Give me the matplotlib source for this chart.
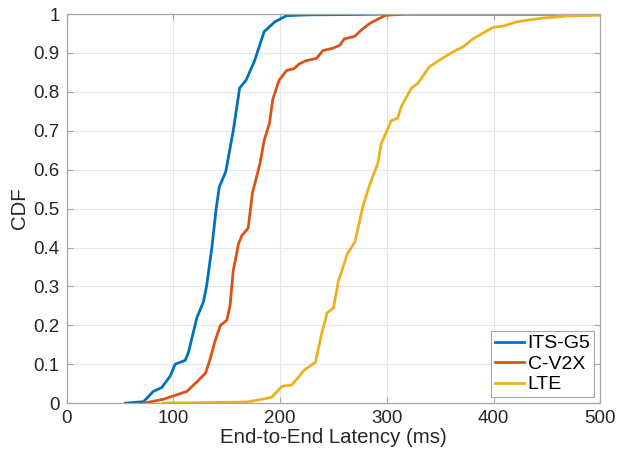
import matplotlib
matplotlib.use('Agg')
import matplotlib.pyplot as plt

# CDF curves (latency in ms, cumulative fraction)
its_x = [55, 72, 81, 89, 97, 101.5, 111, 114, 122, 128, 131, 136, 140, 143, 149, 156,
         162, 168, 176, 185, 195, 206, 227, 274, 300, 500]
its_y = [0, 0.004, 0.03, 0.04, 0.07, 0.1, 0.11, 0.13, 0.22, 0.26, 0.30, 0.40, 0.5, 0.556,
         0.595, 0.70, 0.81, 0.83, 0.88, 0.955, 0.98, 0.996, 0.998, 0.999, 1.0, 1.0]

cv2x_x = [72, 90.6, 101.5, 112.5, 122, 130, 134, 139, 144, 150, 153, 156, 161, 164, 170,
          174, 181, 185, 190, 193, 199, 206, 213, 218, 224, 234, 240, 249, 256, 260, 270,
          276, 284, 293, 299, 318, 500]
cv2x_y = [0, 0.01, 0.02, 0.03, 0.055, 0.077, 0.11, 0.16, 0.2, 0.213, 0.25, 0.34, 0.41,
          0.43, 0.45, 0.54, 0.615, 0.675, 0.72, 0.78, 0.83, 0.855, 0.86, 0.872, 0.88,
          0.886, 0.906, 0.912, 0.92, 0.936, 0.943, 0.959, 0.976, 0.989, 0.997, 1.0, 1.0]

lte_x = [90.6, 168.75, 181, 192, 201.5, 211, 223, 233, 239, 244, 250, 254.5, 263, 270,
         277.4, 283.7, 291.5, 294.7, 301, 304, 310, 313.5, 323, 329, 340, 349.5, 362,
         371.5, 381, 399.7, 409, 421.6, 443.6, 468.7, 500]
lte_y = [0, 0.003, 0.009, 0.015, 0.043, 0.047, 0.086, 0.105, 0.18, 0.232, 0.245, 0.313,
         0.384, 0.414, 0.504, 0.56, 0.616, 0.667, 0.706, 0.726, 0.732, 0.762, 0.81, 0.822,
         0.865, 0.882, 0.903, 0.916, 0.937, 0.966, 0.969, 0.98, 0.989, 0.995, 0.997]

labels = ['ITS-G5', 'C-V2X', 'LTE']
colors = ['#0072BD', '#D95319', '#EDB120']

plt.rcParams['font.family'] = ['Liberation Sans', 'DejaVu Sans']

fig = plt.figure(figsize=(6.24, 4.54), dpi=100)
ax = fig.add_axes([0.107, 0.112, 0.855, 0.857])

for xs, ys, lab, c in zip([its_x, cv2x_x, lte_x], [its_y, cv2x_y, lte_y], labels, colors):
    ax.plot(xs, ys, color=c, lw=2.0, label=lab)

ax.set_xlim(0, 500)
ax.set_ylim(0, 1)
ax.set_xticks(range(0, 501, 100))
ax.set_yticks([i / 10 for i in range(11)])
ax.set_yticklabels(['0', '0.1', '0.2', '0.3', '0.4', '0.5', '0.6', '0.7', '0.8', '0.9', '1'])
ax.grid(True, color='#E6E6E6', lw=0.8)
ax.set_axisbelow(True)
for s in ax.spines.values():
    s.set_color('#A6A6A6')
    s.set_linewidth(0.9)
ax.tick_params(direction='in', length=4, width=0.8, color='#A6A6A6',
               top=True, right=True, labelsize=13.5, labelcolor='#262626', pad=5)

ax.set_xlabel('End-to-End Latency (ms)', fontsize=14.7, color='#262626', labelpad=1)
ax.set_ylabel('CDF', fontsize=14.7, color='#262626', labelpad=3)

leg = ax.legend(loc='lower right', fontsize=14, fancybox=False, framealpha=1,
                edgecolor='#A6A6A6', handlelength=1.5, handletextpad=0.2,
                borderaxespad=0.3, borderpad=0.2, labelspacing=0.15)
leg.get_frame().set_linewidth(0.8)

fig.savefig('out.png', dpi=100)
